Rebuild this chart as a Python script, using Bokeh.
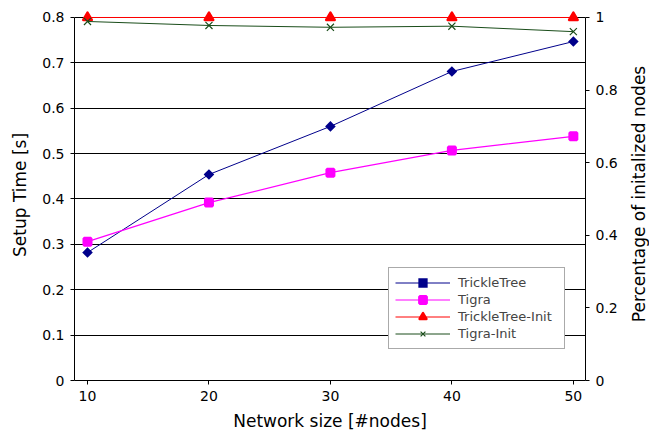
import math
from bokeh.plotting import figure
from bokeh.layouts import row
from bokeh.models import Range1d, LinearAxis, FixedTicker, Legend, LegendItem, Label
from bokeh.embed import file_html
from bokeh.resources import INLINE

network_size = [10, 20, 30, 40, 50]
trickletree_time = [0.282, 0.454, 0.560, 0.681, 0.747]
tigra_time = [0.306, 0.392, 0.458, 0.507, 0.538]
trickletree_init = [1.0, 1.0, 1.0, 1.0, 1.0]
tigra_init = [0.989, 0.978, 0.973, 0.976, 0.961]
left_ticks = [0, 0.1, 0.2, 0.3, 0.4, 0.5, 0.6, 0.7, 0.8]
right_ticks = [0, 0.2, 0.4, 0.6, 0.8, 1.0]

FONT = "DejaVu Sans"
TICK_FS = "14px"
LEGEND_FS = "13px"
LABEL_FS = "17px"
HEAD = 1.022  # small headroom above the top line so markers are not clipped

p = figure(width=625, height=433, output_backend="svg", toolbar_location=None,
           x_range=Range1d(8.93, 51.0), y_range=Range1d(0, 0.8 * HEAD),
           min_border_left=74, min_border_right=40, min_border_top=9, min_border_bottom=53)
p.extra_y_ranges = {"pct": Range1d(0, 1.0 * HEAD)}

p.outline_line_color = None
p.xgrid.visible = False
p.ygrid.grid_line_color = "black"
p.ygrid.grid_line_width = 1
p.ygrid.ticker = FixedTicker(ticks=left_ticks)


def style_axis(ax):
    ax.major_label_text_font = FONT
    ax.major_label_text_font_size = TICK_FS
    ax.major_label_text_color = "black"
    ax.axis_label_text_font = FONT
    ax.axis_label_text_font_size = LABEL_FS
    ax.axis_label_text_font_style = "normal"
    ax.axis_label_text_color = "black"
    ax.minor_tick_line_color = None
    ax.major_tick_out = 4
    ax.major_tick_in = 0
    ax.axis_line_color = "black"
    ax.major_tick_line_color = "black"
    ax.major_label_standoff = 6


style_axis(p.xaxis[0])
style_axis(p.yaxis[0])

p.xaxis.ticker = FixedTicker(ticks=network_size)
p.xaxis.axis_label = "Network size [#nodes]"
p.xaxis.axis_label_standoff = 7
p.yaxis.ticker = FixedTicker(ticks=left_ticks)
p.yaxis.axis_label = "Setup Time [s]"
p.yaxis.major_label_overrides = {0: "0"}
p.yaxis.bounds = (0, 0.8)
p.yaxis.axis_label_standoff = 9

right = LinearAxis(y_range_name="pct", ticker=FixedTicker(ticks=right_ticks))
style_axis(right)
right.major_label_overrides = {0: "0", 1: "1"}
right.bounds = (0, 1)
p.add_layout(right, "right")

l1 = p.line(network_size, trickletree_time, line_color="#00008B", line_width=1)
m1 = p.scatter(network_size, trickletree_time, marker="square", angle=math.pi / 4,
               size=5, line_width=2.5, line_join="miter", color="#00008B")
l2 = p.line(network_size, tigra_time, line_color="#FF00FF", line_width=1.2)
m2 = p.scatter(network_size, tigra_time, marker="square", size=7, line_width=3,
               color="#FF00FF")
l3 = p.line(network_size, trickletree_init, line_color="#FF0000", line_width=1, y_range_name="pct")
m3 = p.scatter(network_size, trickletree_init, marker="triangle", size=8.5, line_width=2.5,
               line_join="round", color="#FF0000", y_range_name="pct")
l4 = p.line(network_size, tigra_init, line_color="#1a4d1a", line_width=1, y_range_name="pct")
m4 = p.scatter(network_size, tigra_init, marker="x", size=10, line_color="#1a4d1a",
               line_width=1.2, y_range_name="pct")

legend = Legend(items=[
    LegendItem(label="TrickleTree", renderers=[l1, m1]),
    LegendItem(label="Tigra", renderers=[l2, m2]),
    LegendItem(label="TrickleTree-Init", renderers=[l3, m3]),
    LegendItem(label="Tigra-Init", renderers=[l4, m4]),
], location=(314, 31))
legend.label_text_font = FONT
legend.label_text_font_size = LEGEND_FS
legend.label_width = 100
legend.glyph_width = 55
legend.glyph_height = 17
legend.label_height = 17
legend.label_standoff = 8
legend.spacing = 0
legend.padding = 6
legend.margin = 0
legend.border_line_color = "#555555"
legend.background_fill_alpha = 1
p.add_layout(legend)

# narrow strip holding the right-hand axis title (reads bottom to top);
# its frame is aligned with the main frame (top 9, bottom 380)
p2 = figure(width=24, height=433, output_backend="svg", toolbar_location=None,
            x_range=Range1d(0, 1), y_range=Range1d(0, 1), min_border=0)
p2.axis.visible = False
p2.grid.visible = False
p2.outline_line_color = None
right_title = Label(x=13.5, y=186.5, x_units="screen", y_units="screen",
                    text="Percentage of initalized nodes", angle=math.pi / 2,
                    text_align="center", text_baseline="middle",
                    text_font=FONT, text_font_size=LABEL_FS, text_color="black")
p2.add_layout(right_title)

layout = row(p, p2, spacing=0)
open("out.html", "w").write(file_html(layout, INLINE))
